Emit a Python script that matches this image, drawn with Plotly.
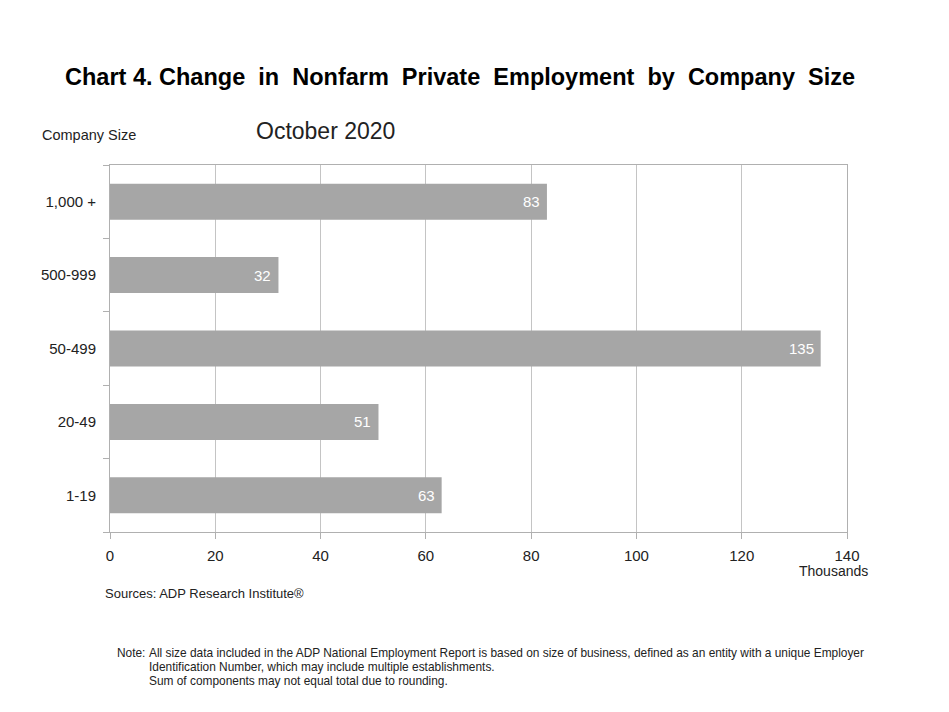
import plotly.graph_objects as go

categories = ["1,000 +", "500-999", "50-499", "20-49", "1-19"]
values = [83, 32, 135, 51, 63]
x_ticks = [0, 20, 40, 60, 80, 100, 120, 140]

# screen geometry (page has an 8px body margin)
OFF = 8
W, H = 949 - 2 * OFF, 712 - 2 * OFF
L, R, T, B = 110, 847, 165, 532

fig = go.Figure(go.Bar(
    y=categories, x=values, orientation="h",
    marker=dict(color="#a6a6a6", line=dict(width=0)),
    width=0.49, hoverinfo="x+y",
))

font = "Liberation Sans, Arial, sans-serif"


def pos(sx, sy):
    return (sx - L) / (R - L), (B - sy) / (B - T)


ann = []


def add(text, sx, sy, size, anchor="left", color="#222"):
    x, y = pos(sx, sy)
    ann.append(dict(text=text, x=x, y=y, xref="paper", yref="paper",
                    xanchor=anchor, yanchor="middle", showarrow=False,
                    font=dict(size=size, color=color, family=font)))


add("<b>Chart 4. Change  in  Nonfarm  Private  Employment  by  Company  Size</b>", 460, 77, 23.5, "center", "#000")
add("October 2020", 325, 131, 23, "center")
add("Company Size", 40, 135, 14.5)
add("Thousands", 833, 571, 14, "center")
add("Sources: ADP Research Institute®", 103, 593, 13)
add("Note:", 115, 653, 11.9)
add("All size data included in the ADP National Employment Report is based on size of business, defined as an entity with a unique Employer", 147, 653, 11.9)
add("Identification Number, which may include multiple establishments.", 147, 667, 11.9)
add("Sum of components may not equal total due to rounding.", 147, 681, 11.9)

# value labels inside bar ends, placed through the data axes
for c, v in zip(categories, values):
    ann.append(dict(text=str(v), x=v, y=c, xref="x", yref="y", xanchor="right",
                    yanchor="middle", xshift=-5, showarrow=False,
                    font=dict(size=15, color="white", family=font)))

fig.update_layout(
    width=W, height=H,
    margin=dict(l=L - OFF, r=(OFF + W) - R, t=T - OFF, b=(OFF + H) - B, pad=0),
    paper_bgcolor="white", plot_bgcolor="white",
    showlegend=False,
    annotations=ann,
    font=dict(family=font, color="#222"),
)
fig.update_xaxes(
    range=[0, 140], tickvals=x_ticks, ticktext=[str(t) for t in x_ticks],
    showgrid=True, gridcolor="#c4c4c4", gridwidth=1,
    showline=True, linecolor="#b0b0b0", linewidth=1, mirror=True,
    ticks="outside", ticklen=6, tickcolor="#b0b0b0", ticklabelstandoff=4,
    tickfont=dict(size=15, color="#222"), zeroline=False,
)
fig.update_yaxes(
    categoryorder="array", categoryarray=categories[::-1],
    showline=True, linecolor="#b0b0b0", linewidth=1, mirror=True,
    ticks="outside", ticklen=6, tickcolor="#b0b0b0", tickson="boundaries",
    tickfont=dict(size=15, color="#222"), showgrid=False, ticklabelstandoff=10,
)
fig.write_html("out.html")
